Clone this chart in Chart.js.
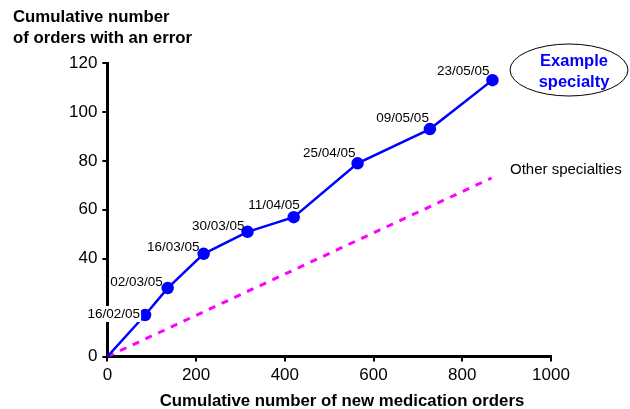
<!DOCTYPE html>
<html>
<head>
<meta charset="utf-8">
<script src="https://cdn.jsdelivr.net/npm/chart.js@4"></script>
<style>
  html, body { margin: 0; padding: 0; background: #fff; }
  #wrap { width: 630px; height: 409px; position: relative; }
</style>
</head>
<body>
<div id="wrap"><canvas id="chart"></canvas></div>
<script>
// 데이터
const exampleX = [0, 85, 136, 217, 316, 420, 564, 727, 868];
const exampleY = [0, 17, 28, 42, 51, 57, 79, 93, 113];
const dateLabels = ['', '16/02/05', '02/03/05', '16/03/05', '30/03/05', '11/04/05', '25/04/05', '09/05/05', '23/05/05'];
const otherX = [0, 866];
const otherY = [0, 73];
const yTicks = [0, 40, 60, 80, 100, 120];
const xTicks = [0, 200, 400, 600, 800, 1000];

const font = '"Liberation Sans", Arial, Helvetica, sans-serif';

// 날짜 라벨 위치 (점 기준 오프셋)
const labelOffsets = [null, [-5, -1], [-5, -6], [-4, -7], [-3, -6], [6, -12], [-2, -10], [-1, -11], [-3, -9]];

const annotate = {
    id: 'annotate',
    afterDatasetsDraw(chart) {
        const ctx = chart.ctx;
        const meta = chart.getDatasetMeta(0);
        ctx.save();
        ctx.font = '13.5px ' + font;
        ctx.textBaseline = 'middle';
        meta.data.forEach((pt, i) => {
            const lab = dateLabels[i];
            if (!lab) return;
            const off = labelOffsets[i];
            const w = ctx.measureText(lab).width;
            const x = pt.x + off[0] - w;
            const y = pt.y + off[1];
            if (i === 1) {
                ctx.fillStyle = '#fff';
                ctx.fillRect(x - 1, y - 8, w + 2, 16);
            }
            ctx.fillStyle = '#000';
            ctx.textAlign = 'left';
            ctx.fillText(lab, x, y);
        });

        // Other specialties
        ctx.fillStyle = '#000';
        ctx.font = '15px ' + font;
        ctx.textAlign = 'left';
        ctx.fillText('Other specialties', 510, 170);

        // Example specialty 타원
        ctx.beginPath();
        ctx.ellipse(569, 70, 59, 26, 0, 0, Math.PI * 2);
        ctx.strokeStyle = '#000';
        ctx.lineWidth = 1;
        ctx.stroke();
        ctx.fillStyle = '#0000ff';
        ctx.font = 'bold 16.5px ' + font;
        ctx.textAlign = 'center';
        ctx.fillText('Example', 574, 61);
        ctx.fillText('specialty', 574, 82);

        // 축 제목
        ctx.fillStyle = '#000';
        ctx.font = 'bold 16.8px ' + font;
        ctx.textAlign = 'left';
        ctx.fillText('Cumulative number', 13, 17);
        ctx.fillText('of orders with an error', 13, 38);
        ctx.textAlign = 'center';
        ctx.fillText('Cumulative number of new medication orders', 342, 401);
        ctx.restore();
    }
};

new Chart(document.getElementById('chart'), {
    type: 'scatter',
    data: {
        datasets: [
            {
                data: exampleX.map((x, i) => ({ x: x, y: exampleY[i] })),
                showLine: true,
                borderColor: '#0000ff',
                backgroundColor: '#0000ff',
                borderWidth: 2.5,
                pointRadius: exampleX.map((x, i) => i === 0 ? 0 : 5),
                pointHoverRadius: 5,
                order: 1
            },
            {
                data: otherX.map((x, i) => ({ x: x, y: otherY[i] })),
                showLine: true,
                borderColor: '#ff00ff',
                borderWidth: 3,
                borderDash: [7, 7],
                pointRadius: 0,
                order: 2
            }
        ]
    },
    options: {
        responsive: true,
        maintainAspectRatio: false,
        animation: false,
        layout: { padding: { top: 63, right: 79, bottom: 19, left: 64 } },
        plugins: { legend: { display: false }, tooltip: { enabled: false } },
        scales: {
            x: {
                type: 'linear',
                min: 0, max: 1000,
                afterBuildTicks: s => { s.ticks = xTicks.map(v => ({ value: v })); },
                grid: { drawOnChartArea: false, drawTicks: true, tickLength: 5, color: '#000', lineWidth: 2 },
                border: { color: '#000', width: 3 },
                ticks: { color: '#000', font: { size: 17, family: font }, padding: 4, maxRotation: 0, callback: v => String(v) }
            },
            y: {
                type: 'linear',
                min: 0, max: 120,
                afterBuildTicks: s => { s.ticks = yTicks.map(v => ({ value: v })); },
                grid: { drawOnChartArea: false, drawTicks: true, tickLength: 5, color: '#000', lineWidth: 2 },
                border: { color: '#000', width: 3 },
                ticks: { color: '#000', font: { size: 17, family: font }, padding: 5, callback: v => String(v) }
            }
        }
    },
    plugins: [annotate]
});
</script>
</body>
</html>
